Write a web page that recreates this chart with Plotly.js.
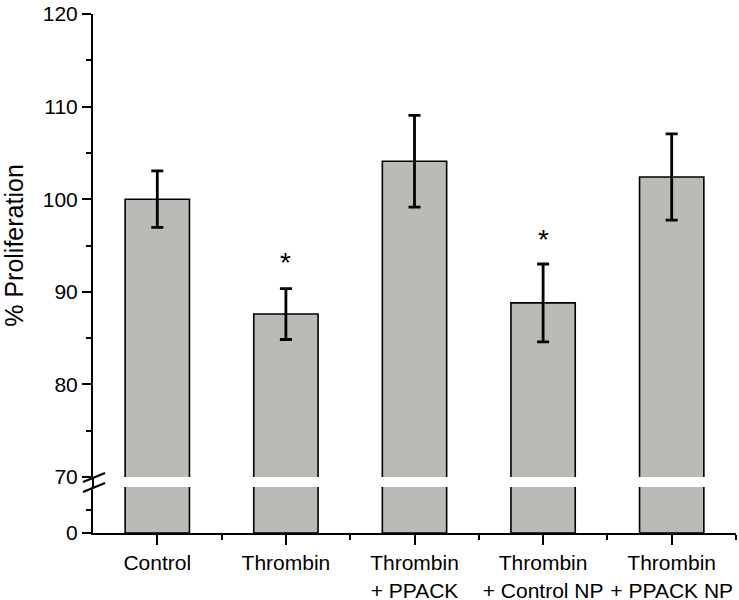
<!DOCTYPE html>
<html>
<head>
<meta charset="utf-8">
<script src="https://cdn.plot.ly/plotly-3.0.1.min.js"></script>
<style>html,body{margin:0;padding:0;background:#fff;}#chart{width:739px;height:600px;}</style>
</head>
<body>
<div id="chart"></div>
<script>
// ---- data ----
const categories = ["Control", "Thrombin", "Thrombin<br>+ PPACK", "Thrombin<br>+ Control NP", "Thrombin<br>+ PPACK NP"];
const proliferation = [100.0, 87.6, 104.1, 88.8, 102.4];
const errorSD = [3.05, 2.75, 4.95, 4.2, 4.65];
const significant = [false, true, false, true, false];
const asteriskY = [null, 93.2, null, 95.6, null];

const xPos = categories.map((c, i) => i);
const barColor = "#bcbab7";
const font = "Liberation Sans, Arial, sans-serif";

const topTrace = {
  type: "bar", x: xPos, y: proliferation, xaxis: "x", yaxis: "y",
  width: 0.5,
  marker: {color: barColor, line: {color: "#000", width: 1.6}},
  error_y: {type: "data", array: errorSD, visible: true, color: "#000", thickness: 2.8, width: 6},
  hoverinfo: "skip", showlegend: false
};
const bottomTrace = {
  type: "bar", x: xPos, y: proliferation, xaxis: "x", yaxis: "y2",
  width: 0.5,
  marker: {color: barColor, line: {color: "#000", width: 1.6}},
  hoverinfo: "skip", showlegend: false
};

const annotations = [];
significant.forEach((s, i) => {
  if (s) annotations.push({x: xPos[i], y: asteriskY[i], xref: "x", yref: "y", text: "*", showarrow: false,
    font: {family: font, size: 28, color: "#000"}, yanchor: "middle", xanchor: "center"});
});

const plotH = 519, plotW = 643;
const topBottom = (533 - 477) / plotH;
const botTop = (533 - 487) / plotH;
const px = v => (v - 93) / plotW;
const py = v => (533 - v) / plotH;

const layout = {
  width: 739, height: 600,
  margin: {l: 93, r: 3, t: 14, b: 67},
  paper_bgcolor: "#fff", plot_bgcolor: "#fff",
  font: {family: font, size: 21, color: "#000"},
  bargap: 0.5,
  xaxis: {
    anchor: "y2", range: [-0.5, 4.5],
    tickmode: "array", tickvals: xPos, ticktext: categories,
    ticks: "outside", ticklen: 10, tickwidth: 2, tickcolor: "#000",
    showline: true, linecolor: "#000", linewidth: 2,
    showgrid: false, zeroline: false,
    tickfont: {size: 21},
    minor: {tickmode: "array", tickvals: [0.5, 1.5, 2.5, 3.5, 4.5], ticks: "outside", ticklen: 5, tickwidth: 2, tickcolor: "#000", showgrid: false}
  },
  yaxis: {
    domain: [topBottom, 1], range: [70, 120],
    tickmode: "linear", tick0: 70, dtick: 10,
    ticks: "outside", ticklen: 9, tickwidth: 2, tickcolor: "#000",
    showline: true, linecolor: "#000", linewidth: 2,
    showgrid: false, zeroline: false,
    tickfont: {size: 21},
    minor: {tickmode: "linear", tick0: 75, dtick: 10, ticks: "outside", ticklen: 5, tickwidth: 2, tickcolor: "#000", showgrid: false},
    title: {text: "% Proliferation", font: {size: 25}, standoff: 12}
  },
  yaxis2: {
    domain: [0, botTop], range: [0, 10],
    tickmode: "array", tickvals: [0], ticktext: ["0"],
    ticks: "outside", ticklen: 9, tickwidth: 2, tickcolor: "#000",
    showline: true, linecolor: "#000", linewidth: 2,
    showgrid: false, zeroline: false,
    tickfont: {size: 21},
    minor: {tickmode: "array", tickvals: [5], ticks: "outside", ticklen: 5, tickwidth: 2, tickcolor: "#000", showgrid: false}
  },
  annotations: annotations,
  shapes: [
    {type: "line", xref: "paper", yref: "paper", x0: 0, x1: 0, y0: botTop, y1: topBottom, line: {color: "#000", width: 2}},
    {type: "line", xref: "paper", yref: "paper", x0: px(83), x1: px(105), y0: py(482), y1: py(473), line: {color: "#000", width: 2}},
    {type: "line", xref: "paper", yref: "paper", x0: px(83), x1: px(105), y0: py(492), y1: py(483), line: {color: "#000", width: 2}}
  ]
};

Plotly.newPlot("chart", [topTrace, bottomTrace], layout, {displayModeBar: false, staticPlot: true});
</script>
</body>
</html>
